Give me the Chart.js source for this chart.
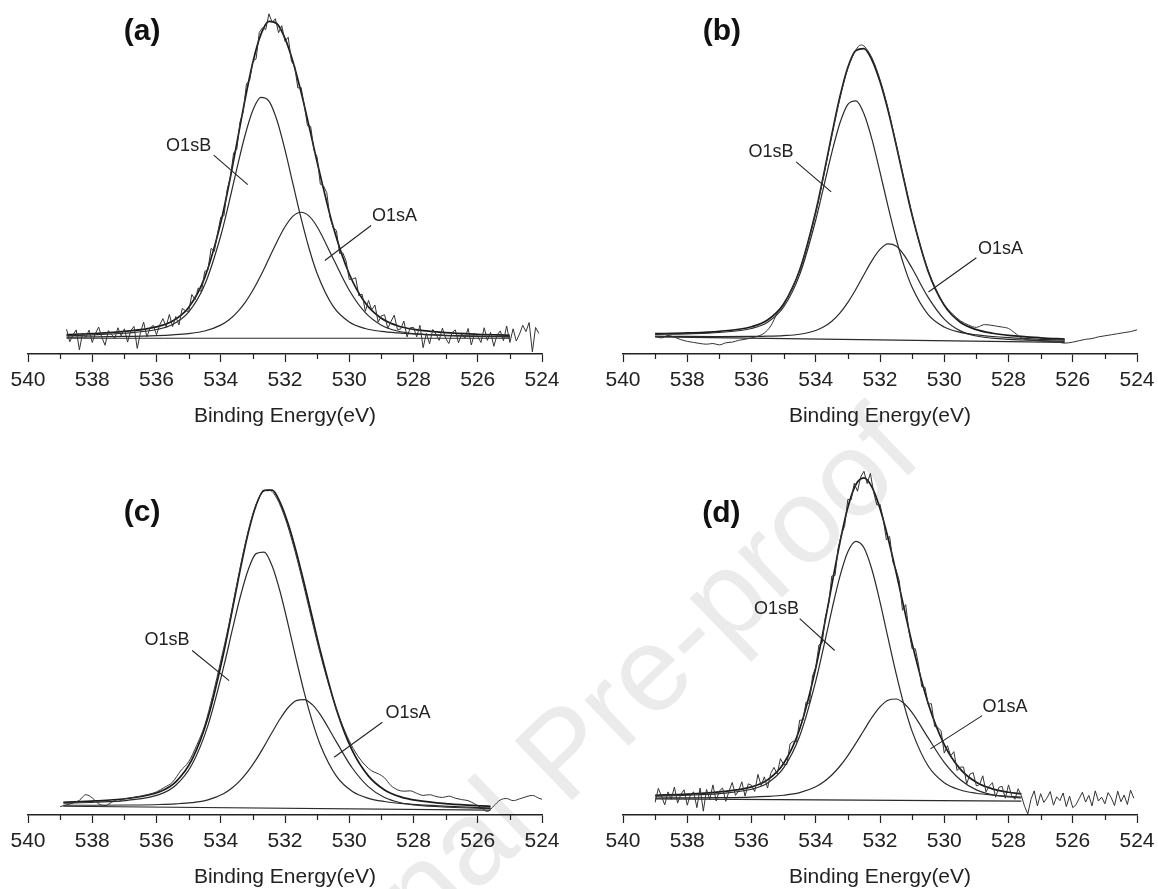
<!DOCTYPE html>
<html>
<head>
<meta charset="utf-8">
<script src="https://cdn.jsdelivr.net/npm/chart.js@4.4.0/dist/chart.umd.min.js"></script>
<style>
  html, body { margin: 0; padding: 0; background: #fff; overflow: hidden; }
  #page { position: relative; width: 1158px; height: 889px; overflow: hidden; }
  #page canvas { position: absolute; }
</style>
</head>
<body>
<div id="page">
  <canvas id="wm" width="1158" height="889" style="left:0;top:0"></canvas>
  <canvas id="pa" width="579" height="444" style="left:0;top:0"></canvas>
  <canvas id="pb" width="579" height="444" style="left:595px;top:0"></canvas>
  <canvas id="pc" width="579" height="444" style="left:0;top:461px"></canvas>
  <canvas id="pd" width="579" height="444" style="left:595px;top:461px"></canvas>
</div>
<script>
// x axis (binding energy, eV) - reversed
const majorTicks = [540, 538, 536, 534, 532, 530, 528, 526, 524];
const minorTicks = [539, 537, 535, 533, 531, 529, 527, 525];

// noisy spectra (a) and (d) share the same energy grid
const rawEV = [
  539, 538.9, 538.8, 538.7, 538.6, 538.5, 538.4, 538.3, 538.2, 538.1,
  538, 537.9, 537.8, 537.7, 537.6, 537.5, 537.4, 537.3, 537.2, 537.1,
  537, 536.9, 536.8, 536.7, 536.6, 536.5, 536.4, 536.3, 536.2, 536.1,
  536, 535.9, 535.8, 535.7, 535.6, 535.5, 535.4, 535.3, 535.2, 535.1,
  535, 534.9, 534.8, 534.7, 534.6, 534.5, 534.4, 534.3, 534.2, 534.1,
  534, 533.9, 533.8, 533.7, 533.6, 533.5, 533.4, 533.3, 533.2, 533.1,
  533, 532.9, 532.8, 532.7, 532.6, 532.5, 532.4, 532.3, 532.2, 532.1,
  532, 531.9, 531.8, 531.7, 531.6, 531.5, 531.4, 531.3, 531.2, 531.1,
  531, 530.9, 530.8, 530.7, 530.6, 530.5, 530.4, 530.3, 530.2, 530.1,
  530, 529.9, 529.8, 529.7, 529.6, 529.5, 529.4, 529.3, 529.2, 529.1,
  529, 528.9, 528.8, 528.7, 528.6, 528.5, 528.4, 528.3, 528.2, 528.1,
  528, 527.9, 527.8, 527.7, 527.6, 527.5, 527.4, 527.3, 527.2, 527.1,
  527, 526.9, 526.8, 526.7, 526.6, 526.5, 526.4, 526.3, 526.2, 526.1,
  526, 525.9, 525.8, 525.7, 525.6, 525.5, 525.4, 525.3, 525.2, 525.1,
  525, 524.9, 524.8, 524.7, 524.6, 524.5, 524.4, 524.3, 524.2, 524.1
];
const raw_a = [
  null, null, 7.1, 3.5, 5.4, 6.9, 1.2, 6.0, 4.8, 6.8,
  3.3, 5.9, 7.7, 4.7, 2.5, 6.7, 5.6, 4.4, 7.5, 5.2,
  7.2, 3.4, 6.7, 7.9, 1.6, 6.1, 9.1, 4.9, 7.4, 8.2,
  5.5, 8.3, 10.1, 7.8, 11.3, 7.8, 10.7, 8.3, 13.0, 12.4,
  12.1, 17.0, 15.5, 18.9, 17.7, 23.6, 24.0, 30.2, 29.3, 34.4,
  39.1, 39.5, 46.9, 50.5, 57.4, 58.5, 66.3, 69.2, 77.2, 78.2,
  83.7, 84.3, 91.9, 93.2, 92.7, 97.2, 94.7, 95.8, 91.8, 93.8,
  89.3, 90.5, 83.7, 82.2, 76.0, 76.2, 71.1, 65.2, 65.0, 58.3,
  56.2, 48.5, 48.0, 46.1, 39.0, 36.1, 35.3, 28.7, 28.9, 26.6,
  21.3, 21.4, 21.8, 16.6, 17.1, 12.2, 15.3, 12.6, 14.0, 9.1,
  10.9, 11.2, 7.3, 9.3, 11.1, 7.0, 7.1, 9.4, 4.9, 7.5,
  7.6, 4.9, 8.2, 1.8, 5.9, 2.9, 7.0, 5.7, 3.9, 7.4,
  4.5, 3.0, 6.1, 6.9, 3.2, 5.7, 4.5, 7.3, 2.6, 5.9,
  5.0, 3.3, 7.5, 3.9, 6.2, 2.2, 5.4, 6.6, 3.8, 8.0,
  3.3, 7.2, 3.7, 5.7, 8.2, 6.4, 9.0, 0.6, 7.6, 5.9
];
const raw_d = [
  3.6, 7.6, 5.3, 2.9, 6.6, 4.5, 8.0, 3.4, 5.9, 7.2,
  2.8, 5.8, 6.6, 2.1, 7.7, 1.1, 7.3, 4.5, 8.6, 4.0,
  6.9, 7.7, 3.9, 6.8, 9.3, 5.6, 6.9, 9.5, 5.4, 8.9,
  8.5, 6.7, 11.6, 8.4, 10.9, 7.7, 11.9, 13.6, 11.7, 16.1,
  14.4, 14.4, 20.3, 21.1, 20.9, 27.1, 27.1, 32.3, 31.8, 39.7,
  42.2, 48.6, 49.1, 56.6, 60.2, 68.3, 68.4, 76.3, 80.2, 82.6,
  90.2, 90.0, 94.8, 92.5, 96.6, 98.2, 94.7, 97.6, 92.3, 88.6,
  88.8, 84.6, 78.6, 79.6, 72.3, 70.1, 66.9, 58.5, 60.1, 52.5,
  47.5, 47.5, 42.9, 36.6, 36.5, 31.7, 31.8, 25.3, 25.0, 24.1,
  17.7, 19.8, 16.9, 18.1, 12.7, 13.7, 13.7, 8.9, 11.7, 12.1,
  8.3, 8.7, 11.2, 6.6, 8.3, 9.2, 5.1, 7.9, 8.2, 4.8,
  8.6, 5.5, 4.5, 7.5, 5.5, 2.5, 0.3, 4.5, 6.9, 2.6,
  6.1, 3.6, 4.9, 6.7, 2.8, 5.2, 4.1, 6.3, 2.4, 5.4,
  2.1, 2.9, 4.7, 6.5, 3.7, 5.6, 2.6, 6.9, 4.0, 5.1,
  3.2, 6.4, 4.9, 2.7, 6.8, 3.8, 5.7, 3.0, 7.1, 4.8
];

// smoother spectra (b) and (c)
const rawEV_b = [539, 538.8, 538.6, 538.4, 538.2, 538, 537.8, 537.6, 537.4, 537.2, 537, 536.8, 536.6, 536.4, 536.2, 536, 535.8, 535.6, 535.4, 535.2, 535, 534.75, 534.5, 534.25, 534, 533.75, 533.5, 533.25, 533, 532.75, 532.6, 532.5, 532.25, 532, 531.75, 531.5, 531.25, 531, 530.75, 530.5, 530.25, 530, 529.75, 529.5, 529.25, 529, 528.9, 528.75, 528.6, 528.4, 528.2, 528, 527.8, 527.6, 527.4, 527.2, 527, 526.8, 526.6, 526.4, 526.25, 526, 525.8, 525.6, 525.4, 525.2, 525, 524.8, 524.6, 524.4, 524.2, 524];
const raw_b = [5.0, 4.6, 5.3, 4.8, 4.1, 3.6, 3.3, 3.0, 2.8, 3.0, 2.6, 3.2, 3.4, 3.9, 4.2, 4.6, 5.1, 6.0, 8.0, 11.6, 14.0, 18.7, 23.8, 31.5, 40.3, 51.0, 62.4, 73.0, 81.6, 86.9, 88.3, 88.0, 84.6, 78.4, 70.2, 60.1, 49.8, 39.8, 31.0, 23.9, 18.4, 14.2, 11.5, 9.5, 8.3, 7.6, 7.9, 8.4, 8.3, 8.0, 7.7, 7.3, 6.0, 4.6, 4.1, 3.9, 3.7, 3.6, 3.5, 3.3, 3.1, 3.4, 3.8, 4.2, 4.4, 4.9, 5.2, 5.5, 5.8, 6.1, 6.4, 6.9];
const rawEV_c = [539, 538.8, 538.6, 538.4, 538.2, 538, 537.8, 537.6, 537.4, 537.3, 537.2, 537, 536.75, 536.5, 536.25, 536, 535.75, 535.5, 535.25, 535, 534.75, 534.5, 534.25, 534, 533.75, 533.5, 533.25, 533, 532.75, 532.5, 532.25, 532, 531.75, 531.5, 531.25, 531, 530.75, 530.5, 530.25, 530, 529.75, 529.5, 529.3, 529.1, 528.9, 528.7, 528.5, 528.3, 528.1, 527.9, 527.7, 527.5, 527.3, 527.1, 526.9, 526.7, 526.5, 526.3, 526.1, 525.9, 525.7, 525.5, 525.3, 525.1, 524.9, 524.7, 524.5, 524.3, 524.1, 524];
const raw_c = [2.4, 2.9, 3.4, 4.2, 5.8, 4.9, 3.2, 2.7, 3.6, 4.1, 3.9, 4.6, 5.0, 5.4, 5.9, 6.6, 7.9, 9.4, 12.6, 15.2, 19.9, 25.6, 34.2, 44.0, 54.3, 65.9, 77.0, 86.0, 91.6, 92.9, 90.4, 84.9, 77.4, 68.6, 59.0, 49.5, 40.8, 33.1, 26.5, 21.2, 17.1, 14.2, 12.6, 11.8, 10.6, 8.4, 7.2, 6.8, 6.9, 6.2, 5.6, 5.8, 5.3, 5.0, 5.4, 4.8, 4.4, 4.1, 3.2, 2.2, 1.0, 2.6, 4.3, 4.7, 4.1, 4.6, 5.2, 5.6, 4.8, 4.5];

// fitted curves: envelope, O1sB, O1sA and background line
const fitEV_a = [538.8, 538, 537, 536, 535.5, 535, 534.5, 534, 533.75, 533.5, 533.25, 533, 532.75, 532.5, 532.25, 532, 531.75, 531.5, 531.25, 531, 530.5, 530, 529.5, 529, 528.5, 528, 527, 526, 525];
const env_a = [5.55, 5.85, 6.46, 7.76, 9.43, 13.3, 21.83, 37.53, 48.21, 60.19, 72.41, 83.36, 91.31, 95.01, 94.36, 90.16, 83.42, 74.81, 65.04, 54.87, 36.36, 22.86, 14.59, 10.21, 8.08, 7.06, 6.12, 5.65, 5.36];
const o1sB_a = [5.24, 5.46, 5.93, 6.99, 8.45, 11.97, 19.77, 33.79, 43.0, 52.88, 62.29, 69.65, 73.31, 72.25, 66.78, 58.3, 48.52, 38.81, 30.14, 23.01, 13.6, 9.15, 7.28, 6.47, 6.02, 5.73, 5.35, 5.12, 4.97];
const o1sA_a = [4.81, 4.89, 5.03, 5.27, 5.48, 5.83, 6.56, 8.24, 9.71, 11.81, 14.62, 18.21, 22.5, 27.26, 32.08, 36.36, 39.4, 40.5, 39.4, 36.36, 27.26, 18.21, 11.81, 8.24, 6.56, 5.83, 5.27, 5.03, 4.89];
const baseEV_a = [538.8, 525];
const base_a = [4.5, 4.5];

const fitEV_b = [539, 538, 537, 536, 535.5, 535, 534.5, 534, 533.75, 533.5, 533.25, 533, 532.75, 532.5, 532.25, 532, 531.75, 531.5, 531.25, 531, 530.5, 530, 529.5, 529, 528.5, 528, 527, 526.25];
const env_b = [5.8, 6.01, 6.49, 7.78, 9.7, 14.28, 23.99, 40.72, 51.41, 62.71, 73.44, 81.93, 86.72, 87.23, 83.98, 77.84, 69.61, 59.87, 49.53, 39.62, 23.59, 13.89, 9.07, 6.95, 5.93, 5.34, 4.63, 4.26];
const o1sB_b = [5.62, 5.77, 6.15, 7.28, 9.07, 13.42, 22.68, 38.29, 47.88, 57.54, 65.92, 71.31, 72.33, 68.66, 61.34, 51.98, 42.16, 33.0, 25.19, 19.04, 11.24, 7.69, 6.18, 5.46, 5.0, 4.67, 4.2, 3.94];
const o1sA_b = [5.08, 5.01, 4.99, 5.02, 5.09, 5.26, 5.64, 6.7, 7.77, 9.38, 11.7, 14.77, 18.51, 22.65, 26.69, 29.88, 31.44, 30.83, 28.27, 24.48, 16.18, 9.97, 6.6, 5.14, 4.51, 4.19, 3.83, 3.62];
const baseEV_b = [539, 526.25];
const base_b = [4.9, 3.3];

const fitEV_c = [538.9, 537.9, 536.9, 535.9, 535.4, 534.9, 534.4, 533.9, 533.65, 533.4, 533.15, 532.9, 532.65, 532.4, 532.15, 531.9, 531.65, 531.4, 531.15, 530.9, 530.4, 529.9, 529.4, 528.9, 528.4, 527.9, 526.9, 525.9, 525.6];
const env_c = [3.65, 4.02, 4.71, 6.63, 9.48, 15.72, 27.76, 46.72, 58.14, 69.83, 80.44, 88.5, 92.74, 92.81, 89.28, 83.13, 75.18, 66.09, 56.42, 46.85, 30.18, 18.3, 11.1, 7.16, 5.17, 4.16, 3.17, 2.61, 2.49];
const o1sB_c = [3.37, 3.65, 4.2, 5.88, 8.51, 14.36, 25.55, 42.65, 52.51, 62.07, 69.95, 74.68, 75.11, 71.14, 63.72, 54.34, 44.4, 34.98, 26.74, 20.02, 11.1, 6.71, 4.77, 3.85, 3.31, 2.96, 2.47, 2.13, 2.05];
const o1sA_c = [2.78, 2.79, 2.85, 3.0, 3.18, 3.53, 4.34, 6.16, 7.7, 9.81, 12.52, 15.83, 19.61, 23.63, 27.5, 30.71, 32.68, 32.99, 31.54, 28.67, 20.88, 13.35, 8.05, 4.98, 3.49, 2.79, 2.21, 1.9, 1.84];
const baseEV_c = [538.9, 525.6];
const base_c = [2.5, 1.4];

const fitEV_d = [539, 538, 537, 536, 535.5, 535, 534.5, 534, 533.75, 533.5, 533.25, 533, 532.75, 532.5, 532.25, 532, 531.75, 531.5, 531.25, 531, 530.5, 530, 529.5, 529, 528.5, 528, 527.6];
const env_d = [5.64, 5.98, 6.59, 8.04, 10.05, 14.71, 24.58, 41.98, 53.37, 65.7, 77.75, 87.93, 94.43, 96.32, 93.69, 87.57, 79.15, 69.39, 59.04, 48.97, 31.87, 20.13, 13.12, 9.35, 7.45, 6.5, 6.01];
const o1sB_d = [5.38, 5.64, 6.12, 7.35, 9.15, 13.45, 22.55, 38.25, 48.19, 58.57, 68.11, 75.22, 78.2, 76.34, 70.06, 60.91, 50.58, 40.45, 31.37, 23.9, 13.99, 9.21, 7.15, 6.22, 5.7, 5.36, 5.14];
const o1sA_d = [4.86, 4.89, 4.97, 5.13, 5.31, 5.65, 6.39, 8.06, 9.5, 11.44, 13.93, 16.99, 20.5, 24.23, 27.87, 30.89, 32.78, 33.14, 31.86, 29.24, 22.02, 15.04, 10.06, 7.19, 5.79, 5.15, 4.86];
const baseEV_d = [539, 527.6];
const base_d = [4.6, 3.99];

// panel tags and peak labels, in data units (eV, intensity) per panel a..d
const panelTags = ['(a)', '(b)', '(c)', '(d)'];
const tagEV = [536.45, 536.92, 536.45, 536.94];
const tagI = [92, 92, 86.4, 86];
const labelB_EV = [535.0, 535.39, 535.67, 535.22];
const labelB_I = [59.4, 57.7, 49.9, 58.9];
const leadB_fromEV = [534.22, 534.61, 534.89, 534.5];
const leadB_fromI = [56.8, 54.9, 47, 56.1];
const leadB_toEV = [533.16, 533.52, 533.74, 533.41];
const leadB_toI = [48.4, 46.3, 38.4, 47];
const labelA_EV = [528.59, 528.25, 528.17, 528.11];
const labelA_I = [39.3, 30.1, 29.1, 30.8];
const leadA_fromEV = [529.32, 529.0, 528.97, 528.82];
const leadA_fromI = [36.7, 27.5, 26.5, 28.4];
const leadA_toEV = [530.76, 530.49, 530.47, 530.43];
const leadA_toI = [26.7, 17.7, 16.5, 18.9];

const watermark = 'Journal Pre-proof';

const FONT = '"Liberation Sans", Arial, sans-serif';
const INK = '#222';

const xy = (xs, ys) => xs.map((x, i) => ({x, y: ys[i]}));

const decor = {
  id: 'decor',
  afterDraw(chart, args, opts) {
    const {ctx} = chart;
    const {x, y} = chart.scales;
    const k = opts.panel;
    ctx.save();
    // minor ticks (odd eV)
    ctx.strokeStyle = INK;
    ctx.lineWidth = 1.2;
    minorTicks.forEach((v) => {
      const px = Math.round(x.getPixelForValue(v)) + 0.5;
      ctx.beginPath();
      ctx.moveTo(px, y.bottom);
      ctx.lineTo(px, y.bottom + 5);
      ctx.stroke();
    });
    ctx.fillStyle = '#111';
    ctx.textAlign = 'center';
    ctx.textBaseline = 'middle';
    ctx.font = `bold 30px ${FONT}`;
    ctx.fillText(panelTags[k], x.getPixelForValue(tagEV[k]), y.getPixelForValue(tagI[k]));
    ctx.fillStyle = INK;
    ctx.font = `18px ${FONT}`;
    ctx.fillText('O1sB', x.getPixelForValue(labelB_EV[k]), y.getPixelForValue(labelB_I[k]));
    ctx.fillText('O1sA', x.getPixelForValue(labelA_EV[k]), y.getPixelForValue(labelA_I[k]));
    ctx.lineWidth = 1.1;
    ctx.beginPath();
    ctx.moveTo(x.getPixelForValue(leadB_fromEV[k]), y.getPixelForValue(leadB_fromI[k]));
    ctx.lineTo(x.getPixelForValue(leadB_toEV[k]), y.getPixelForValue(leadB_toI[k]));
    ctx.moveTo(x.getPixelForValue(leadA_fromEV[k]), y.getPixelForValue(leadA_fromI[k]));
    ctx.lineTo(x.getPixelForValue(leadA_toEV[k]), y.getPixelForValue(leadA_toI[k]));
    ctx.stroke();
    ctx.restore();
  }
};

const line = (data, width, color, smooth) => ({
  data,
  showLine: true,
  borderColor: color,
  backgroundColor: color,
  borderWidth: width,
  pointRadius: 0,
  cubicInterpolationMode: smooth ? 'monotone' : 'default',
  tension: 0,
  clip: 6
});

const makePanel = (id, k, s) => {
  const ctx = document.getElementById(id).getContext('2d');
  return new Chart(ctx, {
    type: 'scatter',
    data: {
      datasets: [
        line(xy(s.rawX, s.raw), 1, '#333', s.smoothRaw),
        line(xy(s.fitX, s.b), 1.2, '#2a2a2a', true),
        line(xy(s.fitX, s.a), 1.2, '#2a2a2a', true),
        line(xy(s.baseX, s.base), 1.2, '#2a2a2a', false),
        line(xy(s.fitX, s.env), 1.7, '#1a1a1a', true)
      ]
    },
    options: {
      responsive: false,
      animation: false,
      events: [],
      layout: { padding: { left: 28, right: 37, top: 4, bottom: 0 } },
      plugins: {
        legend: { display: false },
        tooltip: { enabled: false },
        decor: { panel: k }
      },
      scales: {
        x: {
          type: 'linear',
          reverse: true,
          min: 524,
          max: 540,
          afterBuildTicks: (scale) => { scale.ticks = majorTicks.map((v) => ({value: v})); },
          afterFit: (scale) => { scale.height = 90; },
          border: { display: true, color: INK, width: 1.5 },
          grid: { drawOnChartArea: false, drawTicks: true, tickLength: 8, tickWidth: 1.2, tickColor: INK },
          ticks: { color: INK, padding: 6, maxRotation: 0, autoSkip: false, font: { family: FONT, size: 21 } },
          title: {
            display: true,
            text: 'Binding Energy(eV)',
            color: INK,
            padding: { top: 0, bottom: 15 },
            font: { family: FONT, size: 21 }
          }
        },
        y: { display: false, min: 0, max: 100 }
      }
    },
    plugins: [decor]
  });
};

const drawWatermark = () => {
  const ctx = document.getElementById('wm').getContext('2d');
  ctx.save();
  ctx.fillStyle = '#ebebeb';
  ctx.font = `120px ${FONT}`;
  ctx.textBaseline = 'alphabetic';
  ctx.translate(565, 807);
  ctx.rotate(-44 * Math.PI / 180);
  ctx.fillText(watermark, -ctx.measureText('Journal ').width, 0);
  ctx.restore();
};

drawWatermark();
makePanel('pa', 0, { rawX: rawEV, raw: raw_a, smoothRaw: false, fitX: fitEV_a, env: env_a, b: o1sB_a, a: o1sA_a, baseX: baseEV_a, base: base_a });
makePanel('pb', 1, { rawX: rawEV_b, raw: raw_b, smoothRaw: true, fitX: fitEV_b, env: env_b, b: o1sB_b, a: o1sA_b, baseX: baseEV_b, base: base_b });
makePanel('pc', 2, { rawX: rawEV_c, raw: raw_c, smoothRaw: true, fitX: fitEV_c, env: env_c, b: o1sB_c, a: o1sA_c, baseX: baseEV_c, base: base_c });
makePanel('pd', 3, { rawX: rawEV, raw: raw_d, smoothRaw: false, fitX: fitEV_d, env: env_d, b: o1sB_d, a: o1sA_d, baseX: baseEV_d, base: base_d });
</script>
</body>
</html>
